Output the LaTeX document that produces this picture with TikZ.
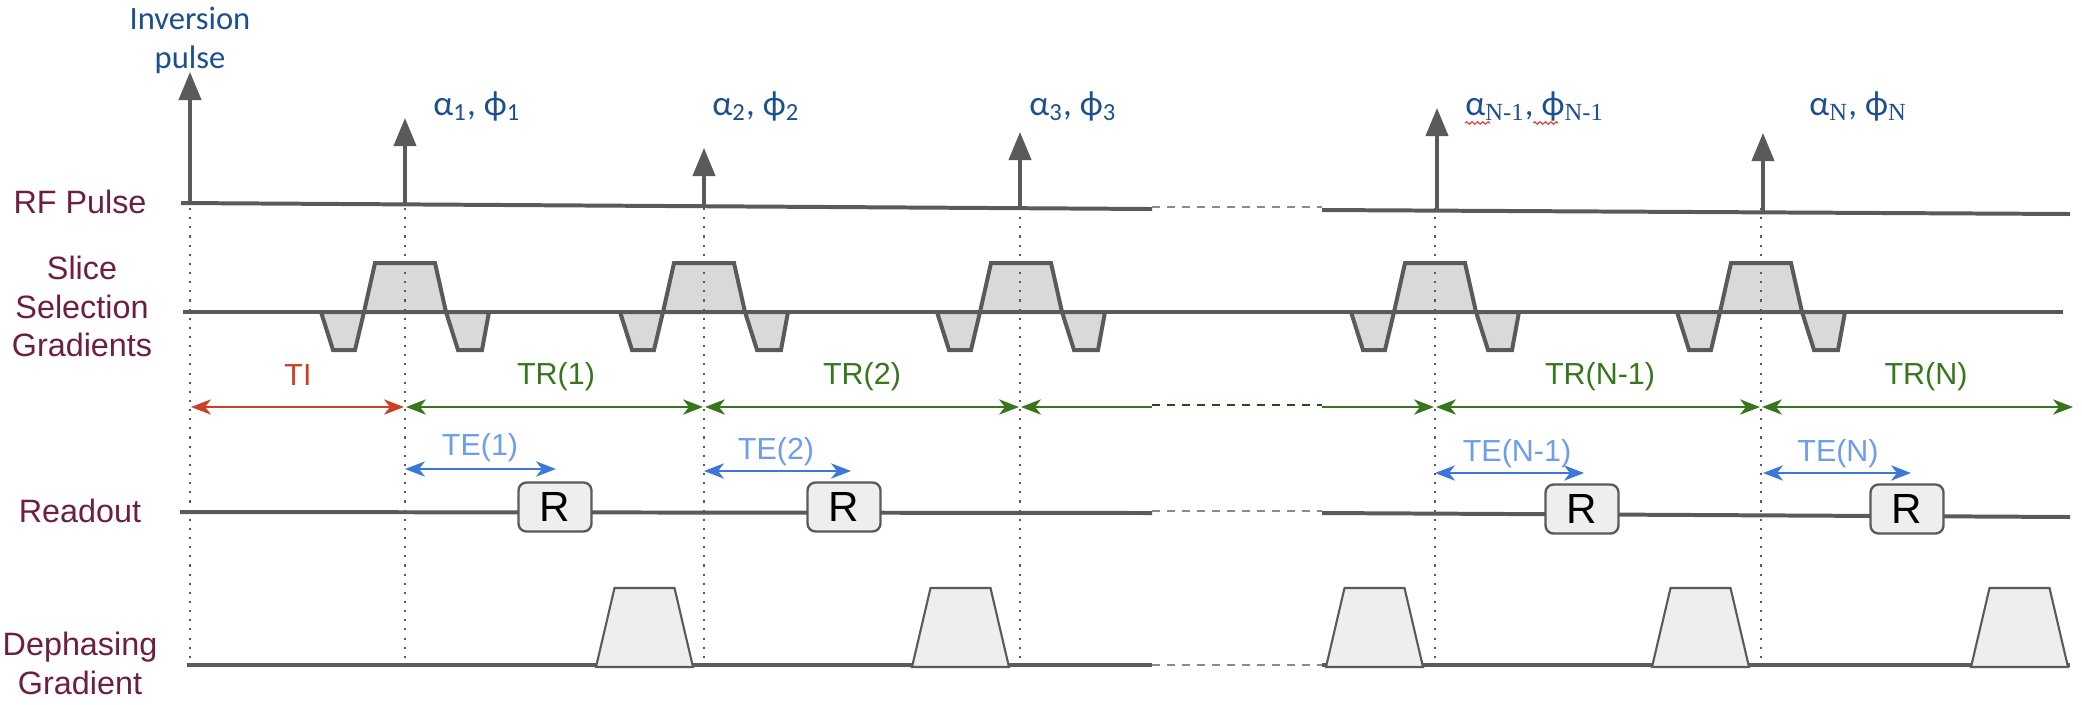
\documentclass[tikz,border=0pt]{standalone}
\usepackage{fontspec}
\setmainfont{Liberation Sans}
\newfontfamily\cfont{Carlito}
\newfontfamily\sefont{Liberation Serif}
\usetikzlibrary{arrows.meta,decorations.pathmorphing}

\definecolor{lg}{HTML}{5A5A5A}
\definecolor{dashg}{HTML}{8A8A8A}
\definecolor{lab}{HTML}{6E1E42}
\definecolor{blu}{HTML}{1C4F8F}
\definecolor{tic}{HTML}{CC4125}
\definecolor{trc}{HTML}{38761D}
\definecolor{trd}{HTML}{274E13}
\definecolor{tet}{HTML}{6D9EEB}
\definecolor{tea}{HTML}{3C78D8}
\definecolor{slf}{HTML}{D9D9D9}
\definecolor{dpf}{HTML}{EEEEEE}
\definecolor{spell}{HTML}{E8403A}

\begin{document}
\begin{tikzpicture}[x=0.15mm,y=-0.15mm,
  axis/.style={draw=lg,line width=1.7pt},
  gapline/.style={draw=dashg,line width=1.1pt,dash pattern=on 3.4pt off 3pt},
  rfarrow/.style={draw=lg,line width=1.5pt,-{Triangle[length=12pt,width=9.5pt]}},
  guide/.style={draw=lg,line width=0.9pt,dash pattern=on 0.9pt off 3pt},
  lobe/.style={draw=lg,fill=slf,line width=1.7pt,line join=miter},
  dephase/.style={draw=lg,fill=dpf,line width=0.9pt},
  rbox/.style={draw=lg,fill=dpf,line width=1pt,rounded corners=1.2mm,minimum width=10.95mm,minimum height=7.35mm,inner sep=0,font=\fontsize{18}{18}\selectfont},
  rowlab/.style={text=lab,font=\fontsize{13.8}{16.4}\selectfont,align=center,inner sep=0},
  alab/.style={text=blu,font=\cfont\fontsize{15}{18}\selectfont,inner sep=0,anchor=base west},
  ivlab/.style={font=\fontsize{13}{15}\selectfont,inner sep=0,anchor=base},
  iv/.style={line width=1pt,{Stealth[length=8.5pt,width=6.5pt,inset=2.5pt]}-{Stealth[length=8.5pt,width=6.5pt,inset=2.5pt]}},
  ivr/.style={line width=1pt,-{Stealth[length=8.5pt,width=6.5pt,inset=2.5pt]}},
  ivl/.style={line width=1pt,{Stealth[length=8.5pt,width=6.5pt,inset=2.5pt]}-},
  spellline/.style={draw=spell,line width=0.5pt,decorate,decoration={snake,amplitude=0.55pt,segment length=2.3pt}}
]
\useasboundingbox (0,0) rectangle (2082,704);

% ---------- row labels ----------
\node[rowlab,anchor=base] (lrf) at (80,213) {RF Pulse};
\node[rowlab,anchor=north] (lslice) at (82,256) {Slice\\Selection\\Gradients};
\node[rowlab,anchor=base] (lread) at (80,522) {Readout};
\node[rowlab,anchor=north] (ldeph) at (80,632) {Dephasing\\Gradient};

% ---------- axes ----------
\draw[axis] (181,203) -- (1152,209);
\draw[gapline] (1152,207) -- (1322,207);
\draw[axis] (1322,210) -- (2070,214);

\foreach \c in {405,704,1021,1435,1761} {
  \draw[lobe] ({\c-84},312) -- ({\c-72},350) -- ({\c-50},350) -- ({\c-41},312) -- cycle;
  \draw[lobe] ({\c+41},312) -- ({\c+53},350) -- ({\c+77},350) -- ({\c+84},312) -- cycle;
  \draw[lobe] ({\c-41},312) -- ({\c-30},263) -- ({\c+30},263) -- ({\c+41},312) -- cycle;
}
\draw[axis] (183,312) -- (2063,312);

\draw[axis] (180,512) -- (1152,513);
\draw[gapline] (1152,511) -- (1322,511);
\draw[axis] (1322,513) -- (2070,517);

\draw[axis] (187,665) -- (1152,665);
\draw[gapline] (1152,665) -- (1322,665);
\draw[axis] (1322,665) -- (2070,665);

\foreach \a in {596,912,1326,1652,1971} {
  \draw[dephase] (\a,667) -- ({\a+18.5},588) -- ({\a+78.5},588) -- ({\a+97},667) -- cycle;
}

% ---------- guides ----------
\draw[guide] (190,208) -- (190,659);
\foreach \x in {405,704,1020,1435,1761} {
  \draw[guide] (\x,208) -- (\x,672);
}

% ---------- RF pulses ----------
\coordinate (b0) at (190,203);  \coordinate (p0) at (190,72);
\coordinate (b1) at (405,204.4); \coordinate (p1) at (405,118);
\coordinate (b2) at (704,206.2); \coordinate (p2) at (704,148);
\coordinate (b3) at (1020,208.2); \coordinate (p3) at (1020,132);
\coordinate (b4) at (1437,210.6); \coordinate (p4) at (1437,108);
\coordinate (b5) at (1763,212.4); \coordinate (p5) at (1763,133);
\foreach \k in {0,...,5} { \draw[rfarrow] (b\k) -- (p\k); }

\node[text=blu,font=\cfont\fontsize{13.9}{16.6}\selectfont,align=center,inner sep=0,anchor=north] (inv) at (190,7) {Inversion\\pulse};

\node[alab] (a1) at (433,115) {α\textsubscript{1}, ϕ\textsubscript{1}};
\node[alab] (a2) at (712,115) {α\textsubscript{2}, ϕ\textsubscript{2}};
\node[alab] (a3) at (1029,115) {α\textsubscript{3}, ϕ\textsubscript{3}};
\node[alab] (a4) at (1465,115) {α\textsubscript{\sefont N-1}, ϕ\textsubscript{\sefont N-1}};
\node[alab] (a5) at (1809,115) {α\textsubscript{\sefont N}, ϕ\textsubscript{\sefont N}};
\coordinate (w1a) at (1465,123); \coordinate (w1b) at (1490,123);
\coordinate (w2a) at (1533,123); \coordinate (w2b) at (1558,123);
\draw[spellline] (w1a) -- (w1b);
\draw[spellline] (w2a) -- (w2b);

% ---------- intervals ----------
\coordinate (i0) at (191,407);
\coordinate (i1l) at (404,407); \coordinate (i1r) at (406,407);
\coordinate (i2l) at (703,407); \coordinate (i2r) at (705,407);
\coordinate (i3l) at (1019,407); \coordinate (i3r) at (1021,407);
\coordinate (i4l) at (1434,407); \coordinate (i4r) at (1436,407);
\coordinate (i5l) at (1760,407); \coordinate (i5r) at (1762,407);
\coordinate (i6) at (2073,407);
\coordinate (g1) at (1152,407); \coordinate (g2) at (1322,407);

\draw[iv,tic] (i0) -- (i1l);
\draw[iv,trc] (i1r) -- (i2l);
\draw[iv,trc] (i2r) -- (i3l);
\draw[ivl,trc] (i3r) -- (g1);
\draw[trd,line width=1pt,dash pattern=on 3.4pt off 3pt] ([yshift=0.3mm]g1) -- ([yshift=0.3mm]g2);
\draw[ivr,trc] (g2) -- (i4l);
\draw[iv,trc] (i4r) -- (i5l);
\draw[iv,trc] (i5r) -- (i6);

\node[ivlab,text=tic] (lti) at (298,385) {TI};
\node[ivlab,text=trc] (ltr1) at (556,384) {TR(1)};
\node[ivlab,text=trc] (ltr2) at (862,384) {TR(2)};
\node[ivlab,text=trc] (ltr4) at (1600,384) {TR(N-1)};
\node[ivlab,text=trc] (ltr5) at (1926,384) {TR(N)};

\coordinate (e1a) at (405,469); \coordinate (e1b) at (556,469);
\coordinate (e2a) at (704,471); \coordinate (e2b) at (851,471);
\coordinate (e4a) at (1435,473); \coordinate (e4b) at (1584,473);
\coordinate (e5a) at (1763,473); \coordinate (e5b) at (1911,473);
\draw[iv,tea] (e1a) -- (e1b);
\draw[iv,tea] (e2a) -- (e2b);
\draw[iv,tea] (e4a) -- (e4b);
\draw[iv,tea] (e5a) -- (e5b);

\node[ivlab,text=tet] (lte1) at (480,455) {TE(1)};
\node[ivlab,text=tet] (lte2) at (776,459) {TE(2)};
\node[ivlab,text=tet] (lte4) at (1517,461) {TE(N-1)};
\node[ivlab,text=tet] (lte5) at (1838,461) {TE(N)};

% ---------- readouts ----------
\node[rbox] (r1) at (555,507) {R};
\node[rbox] (r2) at (844,507) {R};
\node[rbox] (r4) at (1582,509) {R};
\node[rbox] (r5) at (1907,509) {R};

\end{tikzpicture}
\end{document}
